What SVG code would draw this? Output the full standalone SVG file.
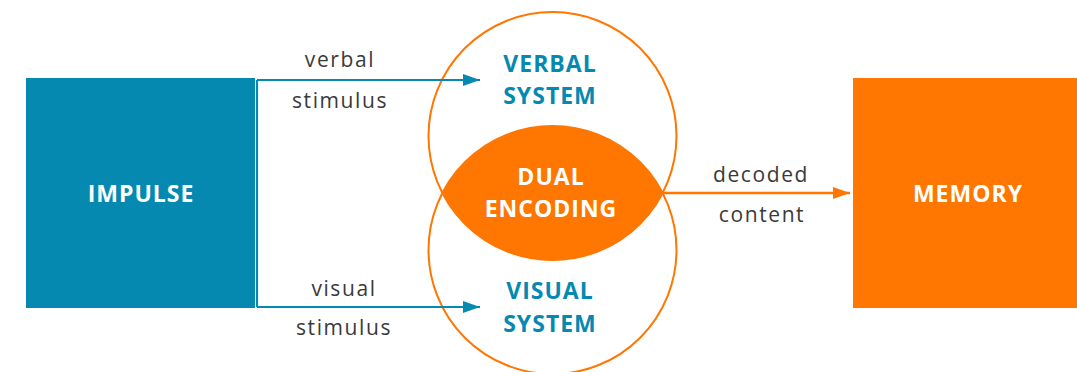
<svg xmlns="http://www.w3.org/2000/svg" width="1077" height="372" viewBox="0 0 1077 372">
  <style>
    .lbl { font-family: "Open Sans", "Noto Sans", sans-serif; font-size: 21px; fill: #3a3a3a; text-anchor: middle; letter-spacing: 1.6px; }
    .head { font-family: "Open Sans", "Noto Sans", sans-serif; font-size: 23px; font-weight: bold; text-anchor: middle; letter-spacing: 1px; }
    .blue { fill: #0589b1; }
    .white { fill: #ffffff; }
    .ring { fill: none; stroke: #ff7600; stroke-width: 2; }
    .wire-b { fill: none; stroke: #0589b1; stroke-width: 2.2; }
    .wire-o { fill: none; stroke: #ff7600; stroke-width: 2.5; }
  </style>
  <defs>
    <marker id="arrow-blue" markerUnits="userSpaceOnUse" markerWidth="18" markerHeight="14" refX="17" refY="6.5" orient="auto">
      <path d="M0,0.5 L17,6.5 L0,12.5 Z" fill="#0589b1"/>
    </marker>
    <marker id="arrow-orange" markerUnits="userSpaceOnUse" markerWidth="18" markerHeight="14" refX="17" refY="6.5" orient="auto">
      <path d="M0,0.5 L17,6.5 L0,12.5 Z" fill="#ff7600"/>
    </marker>
  </defs>

  <rect width="1077" height="372" fill="#ffffff"/>

  <!-- Impulse source -->
  <g id="impulse">
    <rect x="26" y="78" width="229" height="230" fill="#0589b1"/>
    <text class="head white" x="141" y="202">IMPULSE</text>
  </g>

  <!-- Memory target -->
  <g id="memory">
    <rect x="853" y="78" width="230" height="230" fill="#ff7600"/>
    <text class="head white" x="968" y="202">MEMORY</text>
  </g>

  <!-- Verbal system circle -->
  <g id="verbal-system">
    <circle class="ring" cx="552.5" cy="136" r="124"/>
    <text class="head blue" x="550" y="72">VERBAL</text>
    <text class="head blue" x="550" y="104">SYSTEM</text>
  </g>

  <!-- Visual system circle -->
  <g id="visual-system">
    <circle class="ring" cx="552.5" cy="250" r="124"/>
    <text class="head blue" x="550" y="299">VISUAL</text>
    <text class="head blue" x="550" y="332">SYSTEM</text>
  </g>

  <!-- Overlap of the two systems -->
  <g id="dual-encoding">
    <path d="M442.4,193 A124,124 0 0 1 662.6,193 A124,124 0 0 1 442.4,193 Z" fill="#ff7600"/>
    <text class="head white" x="551" y="185">DUAL</text>
    <text class="head white" x="551" y="217">ENCODING</text>
  </g>

  <!-- Connectors -->
  <g id="connectors">
    <path class="wire-b" d="M257,80 V307"/>
    <path class="wire-b" d="M257,80 H480" marker-end="url(#arrow-blue)"/>
    <path class="wire-b" d="M257,307 H480" marker-end="url(#arrow-blue)"/>
    <path class="wire-o" d="M662.6,193 H850" marker-end="url(#arrow-orange)"/>
    <text class="lbl" x="340" y="67">verbal</text>
    <text class="lbl" x="340" y="108">stimulus</text>
    <text class="lbl" x="344" y="296">visual</text>
    <text class="lbl" x="344" y="335">stimulus</text>
    <text class="lbl" x="761" y="182">decoded</text>
    <text class="lbl" x="762" y="222">content</text>
  </g>
</svg>
